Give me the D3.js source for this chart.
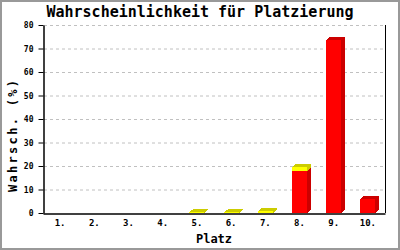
<!DOCTYPE html>
<html><head><meta charset="utf-8">
<script src="https://cdn.jsdelivr.net/npm/d3@7"></script>
<style>body{margin:0;background:#fff}svg{display:block}</style>
</head><body>
<script>
const categories = ["1.","2.","3.","4.","5.","6.","7.","8.","9.","10."];
const redValues = [0,0,0,0,0,0,0,17.9,73.6,6.0];
const yellowValues = [0,0,0,0,0.3,0.3,0.8,1.7,0,0];
const yTicks = [0,10,20,30,40,50,60,70,80];

const W=400,H=250;
const m={l:43,r:15,t:25,b:37};
const svg=d3.select("body").append("svg").attr("width",W).attr("height",H);
svg.append("rect").attr("x",1).attr("y",1).attr("width",W-2).attr("height",H-2).attr("fill","#fff").attr("stroke","#999").attr("stroke-width",2);

const x=d3.scaleBand().domain(categories).range([m.l,W-m.r]);
const y=d3.scaleLinear().domain([0,80]).range([H-m.b,m.t]);

// grid
svg.append("g").selectAll("line").data(yTicks.filter(d=>d>0)).join("line")
 .attr("x1",m.l+1).attr("x2",W-m.r).attr("y1",d=>y(d)+0.5).attr("y2",d=>y(d)+0.5)
 .attr("stroke","#c0c0c0").attr("stroke-dasharray","3,3");

// right line
svg.append("line").attr("x1",W-m.r+0.5).attr("x2",W-m.r+0.5).attr("y1",m.t).attr("y2",H-m.b).attr("stroke","#000");

// bars
const bw=15,dx=4,dy=3;
function bar3d(g,cat,v0,v1,front,dark){
  if(v1-v0<=0) return;
  const cx=x(cat)+x.bandwidth()/2;
  const x0=Math.round(cx-bw/2), x1=x0+bw;
  const yb=y(v0), yt=y(v1);
  g.append("polygon").attr("points",[[x1,yb],[x1+dx,yb-dy],[x1+dx,yt-dy],[x1,yt]].join(" ")).attr("fill",dark);
  g.append("polygon").attr("points",[[x0,yt],[x0+dx,yt-dy],[x1+dx,yt-dy],[x1,yt]].join(" ")).attr("fill",dark);
  g.append("rect").attr("x",x0).attr("y",yt).attr("width",bw).attr("height",yb-yt).attr("fill",front);
}
const gb=svg.append("g").attr("shape-rendering","crispEdges");
categories.forEach((c,i)=>{
  bar3d(gb,c,0,redValues[i],"#ff0000","#cc0000");
  bar3d(gb,c,redValues[i],redValues[i]+yellowValues[i],"#ffff00","#cccc00");
});

// axes
const ya=svg.append("g").attr("transform",`translate(${m.l+0.5},0)`)
 .call(d3.axisLeft(y).tickValues(yTicks).tickSize(5).tickSizeOuter(0).tickPadding(5));
ya.select(".domain").attr("stroke","#000").attr("stroke-width",1.5);
ya.selectAll("text").attr("font-family","DejaVu Sans Mono").attr("font-size",8).attr("font-weight","bold");
const xa=svg.append("g").attr("transform",`translate(0,${H-m.b+0.5})`)
 .call(d3.axisBottom(x).tickSize(0).tickPadding(6));
xa.select(".domain").attr("stroke","#000").attr("stroke-width",1.5);
xa.selectAll("text").attr("font-family","DejaVu Sans Mono").attr("font-size",9).attr("font-weight","bold");

// titles
svg.append("text").attr("x",200).attr("y",17).attr("text-anchor","middle")
 .attr("font-family","DejaVu Sans Mono").attr("font-weight","bold").attr("font-size",15)
 .text("Wahrscheinlichkeit für Platzierung");
svg.append("text").attr("x",(m.l+W-m.r)/2).attr("y",243).attr("text-anchor","middle")
 .attr("font-family","DejaVu Sans Mono").attr("font-weight","bold").attr("font-size",12)
 .text("Platz");
svg.append("text").attr("transform","translate(17,136) rotate(-90)").attr("text-anchor","middle")
 .attr("font-family","DejaVu Sans Mono").attr("font-weight","bold").attr("font-size",12)
 .attr("textLength",112).attr("lengthAdjust","spacing")
 .text("Wahrsch. (%)");
</script>
</body></html>
